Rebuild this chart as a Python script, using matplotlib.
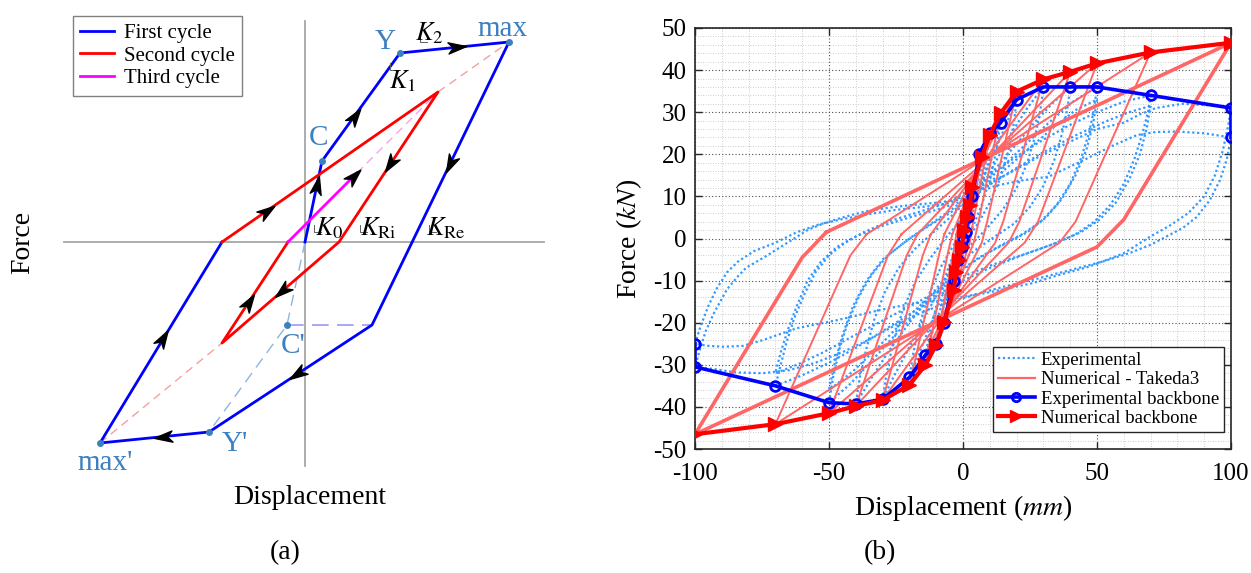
import numpy as np
import matplotlib
matplotlib.use('Agg')
from matplotlib import pyplot as plt
from matplotlib.path import Path
from matplotlib.markers import MarkerStyle
from matplotlib.transforms import Affine2D
from matplotlib.lines import Line2D

plt.rcParams['font.family'] = ['Liberation Serif', 'DejaVu Serif']
plt.rcParams['mathtext.fontset'] = 'stix'
plt.rcParams['axes.unicode_minus'] = False

# ---------------- (a) schematic Takeda rule, points in sketch units ----------------
O = (0, 0)
C = (17, 81)
Y = (95, 189)
MAX = (204, 200)
P1 = (67, -83)
Yp = (-96, -190)
MAXp = (-205, -201)
Cp = (-18, -83)
Q = (-83, 0)
R = (133, 150)
S = (34, 0)
T = (-83, -101)
U = (-17, 0)
V = (52, 69)

first_cycle = [O, C, Y, MAX, P1, Yp, MAXp, Q]
second_cycle = [Q, R, S, T, U]
third_cycle = [U, V]

# arrows: (segment start, segment end, position along segment)
arrow_marks = [(O, C, 0.7), (C, Y, 0.42), (Y, MAX, 0.52), (MAX, P1, 0.43),
               (P1, Yp, 0.46), (Yp, MAXp, 0.42), (MAXp, Q, 0.52), (Q, R, 0.21),
               (R, S, 0.48), (S, T, 0.49), (T, U, 0.41), (U, V, 0.95)]

point_labels = ['Y', 'max', 'C', "C'", "Y'", "max'"]
point_label_pos = [(80, 200), (198, 213), (14, 104), (-12, -104), (-70, -202), (-200, -221)]
k_labels = [r'$K_2$', r'$K_1$', r'$K_0$', r'$K_{\rm Ri}$', r'$K_{\rm Re}$']
k_label_pos = [(124, 209), (98, 161), (24, 14), (73, 14), (141, 14)]
# little right-angle ticks next to the stiffness labels
k_corner_pos = [(115, 200), (85, 172), (9, 10), (55, 10), (124, 10)]

# ---------------- (b) hysteresis data (mm, kN) ----------------
exp_bb_x = [-100, -100, -70, -50, -40, -30, -20, -14, -10, -7, -3.5, -2, -0.5, 0, 1, 2, 3.5, 6, 10, 14, 20, 30, 40, 50, 70, 100, 100]
exp_bb_y = [-25, -30.5, -35, -39, -39.3, -38.2, -33, -27.7, -25, -20, -10, -5, -2, 0, 1.5, 5, 10, 20, 25, 27.5, 33, 36, 36, 36, 34, 31, 24]

num_bb_x = [-100, -70, -50, -40, -30, -20, -14, -10, -7, -3.5, -2.5, -1.5, -0.5, 0.5, 1.5, 2.5, 3.5, 7, 10, 14, 20, 30, 40, 50, 70, 100]
num_bb_y = [-46.5, -44.1, -41.5, -39.8, -38.4, -34.8, -30, -25.3, -19.8, -12.2, -8, -5, -2, 2, 5, 8, 12.3, 19.4, 24.6, 29.7, 34.9, 37.8, 39.6, 41.6, 44.2, 46.5]

# Takeda3 loops, one closed path per amplitude
num_100 = [(-51, 1.5), (100, 46.5), (60, 4.5), (50, -2), (-100, -46.5), (-60, -4.5), (-51, 1.5)]
num_70 = [(-36, 1), (70, 44.2), (42, 4), (36, -1), (-70, -44.1), (-42, -4), (-36, 1)]
num_50 = [(-23, 1), (50, 41.6), (28, 4), (23, -1), (-50, -41.5), (-28, -4), (-23, 1)]
num_40 = [(-17, 1), (40, 39.6), (21, 4), (17, -1), (-40, -39.8), (-21, -4), (-17, 1)]
num_30 = [(-12, 1), (30, 37.8), (15, 4), (12, -1), (-30, -38.4), (-15, -4), (-12, 1)]
num_20 = [(-7, 1), (20, 34.9), (9, 4), (7, -1), (-20, -34.8), (-9, -4), (-7, 1)]
num_14 = [(-4, 1), (14, 29.7), (5.5, 3), (4, -1), (-14, -30), (-5.5, -3), (-4, 1)]
num_10 = [(-2.5, 1), (10, 24.6), (3.5, 3), (2.5, -1), (-10, -25.3), (-3.5, -3), (-2.5, 1)]
num_7 = [(-1, 1), (7, 19.4), (2, 2), (1, -1), (-7, -19.8), (-2, -2), (-1, 1)]

exp_100a = [(100, 31), (99, 27), (97, 21), (94, 15), (90, 10), (84, 6), (77, 3), (70, 0.5), (60, -3.5), (47, -6.7),
            (35, -8.8), (26, -10.6), (12, -12.5), (4, -13.5), (-5, -15), (-15, -17.5), (-25, -20.5), (-35, -24),
            (-45, -27), (-55, -29.5), (-65, -31.3), (-75, -32), (-85, -31.8), (-93, -31), (-100, -30.5),
            (-98, -26), (-96, -22), (-93, -17.8), (-88, -12), (-84, -9), (-81, -7), (-77, -5.5), (-73, -4),
            (-68, -2), (-63, 0), (-58, 2), (-52, 3.6), (-45, 5), (-36, 6.5), (-28, 7.3), (-18.5, 8), (-10, 8.5),
            (-4, 9), (2, 10.5), (10, 13), (20, 16.5), (30, 20), (40, 23), (50, 26), (60, 27.5), (66, 29.5),
            (72, 31), (82, 32), (95, 31.5), (100, 31)]
exp_100b = [(100, 24), (98.5, 19), (96, 14), (92, 9), (87, 5), (82, 2.5), (76, 0.5), (70, -1.5), (62, -3.5),
            (52, -5.5), (40, -7.5), (28, -9.5), (15, -11.5), (3, -13.5), (-8, -14.8), (-18.5, -15.4), (-31, -17),
            (-47, -19.4), (-62, -21.3), (-74.5, -24.1), (-82, -25.5), (-89.5, -25.7), (-95, -25.5), (-100, -25),
            (-98, -21), (-95, -16), (-92, -12), (-88, -8), (-84, -5.5), (-78, -3), (-70, -1), (-62, 1.5),
            (-54, 3.3), (-45, 4.6), (-35, 5.8), (-25, 6.8), (-15, 7.5), (-6, 8.3), (2, 10), (12, 12.5),
            (22, 13.8), (32, 14.7), (45, 18.6), (55, 21.8), (65, 24.6), (72, 25.3), (80, 25.4), (90, 25), (100, 24)]
exp_70a = [(70, 34), (69, 30), (67, 25), (64, 19), (60, 13), (55, 8), (49, 4), (42, 1), (33, -1.5), (22, -4),
           (10, -7), (0, -10), (-10, -14), (-20, -18), (-30, -22), (-40, -26), (-50, -29.5), (-60, -32.5),
           (-70, -35), (-68, -30), (-66, -25), (-63, -19), (-59, -13), (-55, -8), (-50, -4), (-44, -1),
           (-37, 1.5), (-28, 4), (-18, 6), (-8, 8), (0, 10.5), (10, 15), (20, 19.5), (30, 23.5), (40, 27),
           (50, 30), (60, 32.5), (70, 34)]
exp_70b = [(70, 31.5), (68.5, 26), (66, 20), (62, 14), (57, 8.5), (51, 4.5), (44, 1.5), (35, -1), (24, -3.5),
           (12, -6), (2, -8.5), (-8, -12), (-18, -15.5), (-30, -19.5), (-42, -23.5), (-52, -27), (-62, -30),
           (-70, -32), (-68, -27), (-65, -21), (-62, -16), (-58, -10), (-53, -5.5), (-47, -2), (-40, 0.5),
           (-30, 3), (-20, 5), (-10, 6.8), (-2, 8.5), (8, 12), (18, 16), (30, 20.5), (42, 24.5), (54, 28),
           (62, 30), (70, 31.5)]
exp_50a = [(50, 36), (49, 31), (47, 25), (44, 19), (40, 13), (35, 8), (29, 4), (22, 1), (13, -2), (4, -5.5),
           (-5, -10), (-14, -15.5), (-24, -22), (-34, -29), (-42, -34.5), (-50, -39), (-48.5, -33), (-46, -26),
           (-43, -20), (-39, -14), (-34, -8.5), (-28, -4), (-20, 0), (-12, 3.5), (-4, 7), (4, 11), (13, 16),
           (22, 21.5), (32, 27.5), (41, 32.5), (50, 36)]
exp_50b = [(50, 33), (48.5, 27), (46, 21), (42, 15), (37, 9.5), (31, 5), (24, 1.5), (15, -1.5), (6, -4.5),
           (-3, -8.5), (-12, -13.5), (-22, -19.5), (-32, -26), (-41, -31.5), (-50, -36), (-48, -30), (-45, -23),
           (-41, -16), (-36, -10), (-30, -5), (-22, -1), (-14, 2.5), (-5, 6), (4, 10), (14, 15.5), (24, 21),
           (34, 26.5), (42, 30.5), (50, 33)]
exp_40 = [(40, 36), (39, 31), (37, 25), (34, 18.5), (30, 12.5), (25, 7.5), (19, 3.5), (12, 0.5), (4, -3),
          (-4, -7.5), (-12, -13.5), (-20, -20), (-28, -27), (-34, -33), (-40, -39.3), (-38.5, -33), (-36, -26),
          (-33, -19), (-29, -12.5), (-24, -7), (-18, -2.5), (-11, 1.5), (-4, 5.5), (4, 10.5), (12, 16.5),
          (20, 22.5), (28, 28.5), (34, 32.5), (40, 36)]
exp_30 = [(30, 36), (29, 31), (27, 24.5), (24, 18), (20, 12), (15, 7), (9, 2.5), (3, -1.5), (-3, -6), (-9, -12.5),
          (-15, -19.5), (-21, -27), (-26, -33), (-30, -38.2), (-28.5, -32), (-26, -24.5), (-22.5, -17),
          (-18, -10.5), (-12, -4.5), (-6, 0.5), (0, 5), (6, 11), (12, 18), (18, 25), (24, 31), (30, 36)]
exp_20 = [(20, 33), (19, 27.5), (17, 21), (14, 14.5), (10, 8.5), (6, 4), (2, 0), (-2, -5), (-6, -11), (-10, -17),
          (-14, -23.5), (-17, -28.5), (-20, -33), (-18.5, -27), (-16, -20), (-12.5, -13), (-8, -6.5), (-3, -1),
          (1, 4), (5, 10), (9, 16.5), (13, 22.5), (17, 28.5), (20, 33)]
exp_14 = [(14, 27.5), (12.5, 21), (10, 14), (7, 8), (3.5, 2.5), (0, -2.5), (-4, -9), (-8, -16), (-11.5, -22.5),
          (-14, -27.7), (-12, -21), (-9, -14), (-5.5, -7), (-2, -1.5), (2, 4.5), (6, 11), (9.5, 18), (12, 23),
          (14, 27.5)]
exp_10 = [(10, 25), (8.5, 18), (6, 11), (3, 5), (0, 0), (-3, -6), (-6, -13), (-8.5, -19.5), (-10, -25), (-8, -18),
          (-5, -10), (-2, -3.5), (1, 3), (4, 9.5), (7, 17), (10, 25)]
exp_7 = [(6, 20), (4.5, 13), (2.5, 6), (0, 0), (-2.5, -6), (-5, -13), (-7, -20), (-5, -13), (-2, -5), (0.5, 1),
         (3, 8), (5, 14), (6, 20)]

exp_loops = [exp_100a, exp_100b, exp_70a, exp_70b, exp_50a, exp_50b, exp_40, exp_30, exp_20, exp_14, exp_10, exp_7]
num_loops = [num_70, num_50, num_40, num_30, num_20, num_14, num_10, num_7]

W, H = 1251, 573
fig = plt.figure(figsize=(W / 100, H / 100), dpi=100)

# ======================= panel (a) =======================
axl = fig.add_axes([0, 0, 620 / W, 1])
axl.set_xlim(-305, 315)
axl.set_ylim(-331, 242)
axl.axis('off')

axl.plot([-241, 239], [0, 0], color='#a6a6a6', lw=1.3)
axl.plot([0, 0], [221, -224], color='#a6a6a6', lw=1.3)

def xy(pts):
    return [p[0] for p in pts], [p[1] for p in pts]

# construction lines
axl.plot(*xy([MAXp, T]), color='#f4a0a0', lw=1, dashes=(6, 4))
axl.plot(*xy([R, MAX]), color='#f4a0a0', lw=1, dashes=(6, 4))
axl.plot(*xy([V, R]), color='#f7a0f7', lw=1, dashes=(6, 4))
axl.plot(*xy([O, Cp, Yp]), color='#8db4e2', lw=1, dashes=(8, 5))
axl.plot(*xy([Cp, P1]), color='#9a9af5', lw=1.2, dashes=(10, 5))

h1, = axl.plot(*xy(first_cycle), color='#0000ff', lw=2, label='First cycle')
h2, = axl.plot(*xy(second_cycle), color='#ff0000', lw=2, label='Second cycle')
h3, = axl.plot(*xy(third_cycle), color='#ff00ff', lw=2, label='Third cycle')

stealth = Path([(1, 0), (-1, 0.62), (-0.45, 0), (-1, -0.62), (1, 0)],
               [Path.MOVETO, Path.LINETO, Path.LINETO, Path.LINETO, Path.CLOSEPOLY])
for a, b, t in arrow_marks:
    px = a[0] + t * (b[0] - a[0])
    py = a[1] + t * (b[1] - a[1])
    ang = np.degrees(np.arctan2(b[1] - a[1], b[0] - a[0]))
    m = MarkerStyle(stealth, transform=Affine2D().rotate_deg(ang))
    axl.plot(px, py, marker=m, ms=13, color='black', linestyle='none', zorder=5)

# small corner marks beside the K labels
for cx, cy in k_corner_pos:
    axl.plot([cx, cx, cx + 7], [cy + 7, cy, cy], color='#606060', lw=0.7)

dot_pts = [Y, MAX, C, Cp, Yp, MAXp]
axl.plot(*xy(dot_pts), 'o', color='#3d80c0', ms=4, linestyle='none', zorder=6)
for lab, pos in zip(point_labels, point_label_pos):
    axl.text(pos[0], pos[1], lab, color='#3d80c0', fontsize=21, ha='center', va='center')
for lab, pos in zip(k_labels, k_label_pos):
    axl.text(pos[0], pos[1], lab, color='black', fontsize=19, ha='center', va='center')

axl.legend(handles=[h1, h2, h3], loc='upper left', bbox_to_anchor=(73 / W, 1 - 16 / H),
           bbox_transform=fig.transFigure, fontsize=15, frameon=True, fancybox=False,
           edgecolor='#808080', framealpha=1, handlelength=1.6, handletextpad=0.5,
           labelspacing=0.15, borderpad=0.35, borderaxespad=0)

fig.text(23 / W, 1 - 242 / H, 'Force', fontsize=20, rotation=90, ha='center', va='center')
fig.text(310 / W, 1 - 498 / H, 'Displacement', fontsize=20, ha='center', va='center')
fig.text(285 / W, 1 - 553 / H, '(a)', fontsize=20, ha='center', va='center')
fig.text(880 / W, 1 - 553 / H, '(b)', fontsize=20, ha='center', va='center')

# ======================= panel (b) =======================
ax = fig.add_axes([695 / W, 1 - 449 / H, 536 / W, 421 / H])

for lp in exp_loops:
    ax.plot(*xy(lp), color='#3399ff', lw=1.6, linestyle=(0, (1, 1.2)), zorder=2)
for lp in num_loops:
    ax.plot(*xy(lp), color='#ff6666', lw=1.4, zorder=3)
ax.plot(*xy(num_100), color='#ff6666', lw=2.6, zorder=3)

ax.plot(exp_bb_x, exp_bb_y, color='#0000ff', lw=2.6, marker='o', ms=7, mfc='none', mew=2, zorder=4)
ax.plot(num_bb_x, num_bb_y, color='#ff0000', lw=3, marker='>', ms=10, zorder=5)

ax.set_xlim(-100, 100)
ax.set_ylim(-50, 50)
ax.set_xticks([-100, -50, 0, 50, 100])
ax.set_yticks(np.arange(-50, 51, 10))
ax.set_xticks(np.arange(-100, 101, 10), minor=True)
ax.set_yticks(np.arange(-50, 51, 2), minor=True)
ax.grid(which='major', color='#4d4d4d', linestyle=(0, (1, 2)), lw=0.8)
ax.grid(which='minor', color='#bdbdbd', linestyle=(0, (1, 2)), lw=0.6)
ax.set_axisbelow(True)
ax.tick_params(which='major', direction='in', length=5, width=1, top=True, right=True,
               labelsize=18, pad=6, color='#262626')
ax.tick_params(axis='x', which='major', pad=10)
ax.tick_params(which='minor', length=0)
for sp in ax.spines.values():
    sp.set_linewidth(1.2)
    sp.set_color('#262626')

ax.set_xlabel(r'Displacement ($mm$)', fontsize=20)
ax.set_ylabel(r'Force ($kN$)', fontsize=20)
ax.xaxis.set_label_coords(0.5, -0.105)
ax.yaxis.set_label_coords(-0.095, 0.5)

leg_handles = [
    Line2D([], [], color='#3399ff', lw=1.6, linestyle=(0, (1, 1.2))),
    Line2D([], [], color='#ff6666', lw=1.6),
    Line2D([], [], color='#0000ff', lw=2.6, marker='o', ms=6, mfc='none', mew=2),
    Line2D([], [], color='#ff0000', lw=3, marker='>', ms=9),
]
leg_labels = ['Experimental', 'Numerical - Takeda3', 'Experimental backbone', 'Numerical backbone']
ax.legend(leg_handles, leg_labels, loc='upper left', bbox_to_anchor=(0.556, 0.242),
          fontsize=13.5, frameon=True, fancybox=False, edgecolor='#262626', framealpha=1,
          handlelength=2.0, handletextpad=0.3, labelspacing=0.12, borderpad=0.25, borderaxespad=0)

fig.savefig('out.png', dpi=100)
